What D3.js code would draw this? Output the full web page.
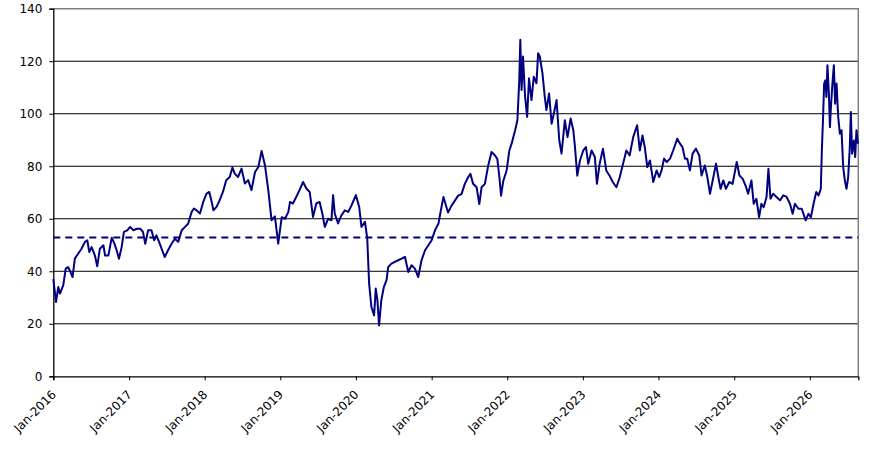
<!DOCTYPE html>
<html>
<head>
<meta charset="utf-8">
<script src="https://cdn.jsdelivr.net/npm/d3@7"></script>
<style>
  body { margin: 0; background: #fff; }
  svg { display: block; }
  .axis text { font-family: "DejaVu Sans", sans-serif; font-size: 12px; fill: #000; }
</style>
</head>
<body>
<div class="chart"></div>
<script>
// series (roughly two points a month)
const dates = [
  "2016-01-01","2016-01-14","2016-01-25","2016-02-02","2016-02-18","2016-03-01","2016-03-12","2016-03-24","2016-04-03","2016-04-14","2016-04-30","2016-05-16","2016-06-02","2016-06-13","2016-06-23","2016-07-04","2016-07-20","2016-07-31","2016-08-13","2016-08-30","2016-09-07","2016-09-23","2016-10-09","2016-10-22","2016-11-02","2016-11-13","2016-11-26","2016-12-07","2016-12-23",
  "2017-01-06","2017-01-22","2017-02-07","2017-02-24","2017-03-09","2017-03-20","2017-04-03","2017-04-19","2017-05-02","2017-05-13","2017-05-29","2017-06-22","2017-07-08","2017-07-25","2017-08-10","2017-08-26","2017-09-12","2017-09-28","2017-10-13","2017-10-30","2017-11-10","2017-11-23","2017-12-09","2017-12-25",
  "2018-01-10","2018-01-23","2018-02-04","2018-02-12","2018-02-27","2018-03-14","2018-03-30","2018-04-15","2018-05-02","2018-05-15","2018-05-26","2018-06-11","2018-06-28","2018-07-14","2018-07-30","2018-08-15","2018-09-01","2018-09-17","2018-10-03","2018-10-19","2018-11-04","2018-11-20","2018-12-06","2018-12-22",
  "2019-01-08","2019-01-24","2019-02-09","2019-02-17","2019-03-03","2019-03-19","2019-04-04","2019-04-21","2019-05-07","2019-05-23","2019-06-08","2019-06-24","2019-07-10","2019-07-23","2019-08-04","2019-08-20","2019-09-05","2019-09-13","2019-09-21","2019-10-07","2019-10-23","2019-11-09","2019-11-25","2019-12-11",
  "2020-01-01","2020-01-17","2020-01-28","2020-02-14","2020-02-25","2020-03-05","2020-03-16","2020-03-29","2020-04-06","2020-04-14","2020-04-22","2020-05-03","2020-05-15","2020-05-28","2020-06-05","2020-06-21","2020-07-07","2020-07-23","2020-08-09","2020-08-25","2020-09-10","2020-09-26","2020-10-12","2020-10-28","2020-11-13","2020-11-30","2020-12-16",
  "2021-01-01","2021-01-17","2021-02-03","2021-02-16","2021-02-27","2021-03-21","2021-04-07","2021-04-23","2021-05-09","2021-05-25","2021-06-10","2021-06-26","2021-07-07","2021-07-20","2021-08-06","2021-08-19","2021-08-30","2021-09-15","2021-10-01","2021-10-17","2021-11-03","2021-11-14","2021-11-24","2021-12-02","2021-12-13","2021-12-29",
  "2022-01-11","2022-01-22","2022-02-08","2022-02-19","2022-02-28","2022-03-05","2022-03-11","2022-03-18","2022-03-28","2022-04-07","2022-04-16","2022-04-28","2022-05-09","2022-05-22","2022-05-30","2022-06-07","2022-06-20","2022-07-01","2022-07-09","2022-07-22","2022-08-03","2022-08-14","2022-08-27","2022-09-09","2022-09-20","2022-10-06","2022-10-19","2022-11-03","2022-11-16","2022-11-24","2022-12-05","2022-12-18",
  "2023-01-03","2023-01-16","2023-01-27","2023-02-12","2023-02-28","2023-03-10","2023-03-23","2023-04-08","2023-04-24","2023-05-10","2023-05-26","2023-06-12","2023-06-28","2023-07-14","2023-07-30","2023-08-15","2023-09-01","2023-09-20","2023-10-03","2023-10-16","2023-10-27","2023-11-08","2023-11-21","2023-12-07","2023-12-23",
  "2024-01-05","2024-01-16","2024-01-28","2024-02-10","2024-02-26","2024-03-12","2024-04-01","2024-04-14","2024-04-26","2024-05-08","2024-05-19","2024-06-01","2024-06-14","2024-06-30","2024-07-16","2024-07-27","2024-08-12","2024-08-24","2024-09-06","2024-09-19","2024-10-05","2024-10-16","2024-10-27","2024-11-09","2024-11-22","2024-12-08","2024-12-24",
  "2025-01-13","2025-01-26","2025-02-11","2025-02-27","2025-03-09","2025-03-25","2025-04-05","2025-04-18","2025-05-01","2025-05-12","2025-05-23","2025-06-06","2025-06-15","2025-06-25","2025-07-08","2025-07-24","2025-08-10","2025-08-26","2025-09-11","2025-09-27","2025-10-10","2025-10-21","2025-11-07","2025-11-23","2025-12-12","2025-12-25",
  "2026-01-06","2026-01-19","2026-02-01","2026-02-12","2026-02-23","2026-02-28","2026-03-06","2026-03-11","2026-03-17","2026-03-22","2026-03-27","2026-04-03","2026-04-08","2026-04-12","2026-04-20","2026-04-27","2026-05-03","2026-05-10","2026-05-18","2026-05-26","2026-06-03","2026-06-11","2026-06-19","2026-06-27","2026-07-05","2026-07-13","2026-07-18","2026-07-24","2026-08-02","2026-08-08","2026-08-14","2026-08-21"
];
const values = [
  37,28.3,34,31.5,34.6,41,41.6,39.7,37.8,44.8,46.7,48.6,51.2,51.8,47.3,49.2,46,41.9,48.6,49.9,46,46,52.8,50.5,48,44.8,49.2,55,55.6,
  56.9,55.6,56.2,56.2,55,50.5,55.6,55.6,51.8,53.7,50.5,45.4,48,50.5,52.4,51.2,55.6,56.9,58.1,62.6,63.9,63.2,62,66.4,
  69.6,70.2,66.4,63.2,64.5,67,70.2,74.7,75.9,79.5,77.2,75.9,79.1,73.4,74.7,70.9,77.8,79.7,85.8,80.4,70.9,59.4,60.9,50.5,
  60.6,60,62.6,66.4,65.8,68.3,70.9,74,71.5,70.2,60.7,65.8,66.4,62,56.9,60,59.4,69,62,58.2,61.3,63.2,62.6,65.1,
  69,64.5,56.9,58.8,52.4,35.3,26.4,23.2,33.4,29,19.4,29,34,36.6,41.6,42.9,43.6,44.2,44.8,45.5,39.7,42.3,41,37.8,44.2,48,49.9,
  51.8,55.6,58.2,63.9,68.3,62.4,65,66.9,68.8,69.4,73.3,75.8,77.1,73.3,72,65.6,72,73.3,80.3,85.4,84.1,82.8,75.8,68.8,74.5,78.4,
  86,88.6,93.7,97.5,112.8,128.2,109,121.8,106.5,98.8,113.5,105.2,114.1,111.6,123,121.8,115.4,106.5,101.4,107.7,96.2,100.1,105.2,89.9,84.8,97.5,91.1,98.2,93.7,87.3,76.4,82.2,
  86,87.3,80.9,86,83.5,73.3,80.9,86.7,78.4,76.4,73.9,72,75.8,80.9,86,84.1,91.1,95.6,86,91.7,87.3,79.7,82.2,74,78.4,
  75.9,78.4,82.9,81.6,82.9,86,90.5,88.6,87.3,82.9,82.9,78.4,84.8,86.7,84.1,76.5,80.3,75.9,69.5,74.6,81,75.9,71.4,74.6,71.4,74,73.3,
  81.6,76.5,75.2,72.1,69.5,74.6,65.7,67.6,60.6,65.7,64.4,68.3,79,67.6,69.5,68.3,67,68.9,68.3,65.7,61.9,65.7,63.8,63.8,59.4,61.9,
  60.6,65.7,70.2,68.9,71.4,86,98.7,111.5,112.7,106.4,118.5,107.7,94.9,101.3,111.5,118.5,103.8,111.5,98.8,92.4,93.7,79.7,74.6,71.4,75.8,87.3,100.7,84.8,89.8,83.5,93.7,88.6
];
const average = 52.9;   // dashed reference line
const yTicks = [0, 20, 40, 60, 80, 100, 120, 140];
const xTickYears = [2016, 2017, 2018, 2019, 2020, 2021, 2022, 2023, 2024, 2025, 2026];
const xStart = "2016-01-01", xEnd = "2026-08-23";

const W = 883, H = 449;
const margin = { top: 8.7, right: 24.7, bottom: 72.7, left: 53.3 },
  width = W - margin.left - margin.right,
  height = H - margin.top - margin.bottom;

const parse = d3.timeParse("%Y-%m-%d");
const series = dates.map((d, i) => ({ date: parse(d), value: values[i] }));

const svg = d3.select(".chart")
  .append("svg")
  .attr("width", W)
  .attr("height", H)
  .append("g")
  .attr("transform", "translate(" + margin.left + "," + margin.top + ")");

const x = d3.scaleTime()
  .domain([parse(xStart), parse(xEnd)])
  .range([0, width]);

const y = d3.scaleLinear()
  .domain([0, 140])
  .range([height, 0]);

// gridlines
svg.append("g")
  .selectAll("line")
  .data(yTicks.filter(d => d > 0 && d < 140))
  .join("line")
  .attr("x1", 0)
  .attr("x2", width)
  .attr("y1", d => y(d))
  .attr("y2", d => y(d))
  .attr("stroke", "#000")
  .attr("stroke-width", 1);

// grey frame on top and right
svg.append("path")
  .attr("d", "M0," + y(140) + "H" + width + "V" + height)
  .attr("fill", "none")
  .attr("stroke", "#808080")
  .attr("stroke-width", 1.5);

// y axis
const yAxis = svg.append("g")
  .attr("class", "axis")
  .call(d3.axisLeft(y).tickValues(yTicks).tickSize(4).tickPadding(7).tickFormat(d3.format("d")));
yAxis.select(".domain").attr("stroke", "#000").attr("stroke-width", 1.3);
yAxis.selectAll(".tick line").attr("stroke", "#000");

// x axis
const xAxis = svg.append("g")
  .attr("class", "axis")
  .attr("transform", "translate(0," + height + ")")
  .call(d3.axisBottom(x)
    .tickValues(xTickYears.map(yr => new Date(yr, 0, 1)))
    .tickSize(4)
    .tickFormat(d3.timeFormat("%b-%Y")));
xAxis.select(".domain").attr("stroke", "#000").attr("stroke-width", 1.3);
xAxis.selectAll(".tick line").attr("stroke", "#000");
xAxis.selectAll(".tick text")
  .attr("x", 0)
  .attr("y", 0)
  .attr("dy", 0)
  .attr("text-anchor", "end")
  .attr("transform", "translate(3,19) rotate(-45)");

// dashed average
svg.append("line")
  .attr("x1", 0)
  .attr("x2", width)
  .attr("y1", y(average))
  .attr("y2", y(average))
  .attr("stroke", "#000080")
  .attr("stroke-width", 2)
  .attr("stroke-dasharray", "7,5");

// the series
const line = d3.line()
  .x(d => x(d.date))
  .y(d => y(d.value));

svg.append("path")
  .datum(series)
  .attr("fill", "none")
  .attr("stroke", "#000080")
  .attr("stroke-width", 2)
  .attr("stroke-linejoin", "round")
  .attr("d", line);
</script>
</body>
</html>
